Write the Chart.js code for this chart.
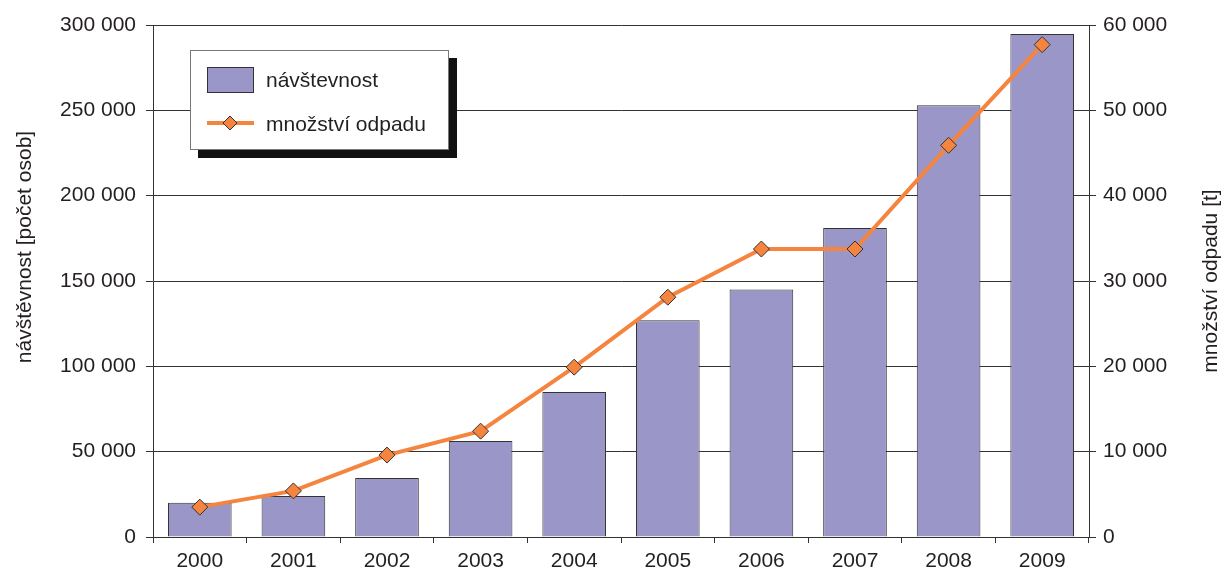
<!DOCTYPE html>
<html>
<head>
<meta charset="utf-8">
<script src="https://cdn.jsdelivr.net/npm/chart.js@4/dist/chart.umd.min.js"></script>
<style>
  html, body { margin: 0; padding: 0; background: #fff; }
  #wrap { width: 1226px; height: 574px; }
</style>
</head>
<body>
<div id="wrap"><canvas id="myChart"></canvas></div>
<script>
const years = ["2000", "2001", "2002", "2003", "2004", "2005", "2006", "2007", "2008", "2009"];
const visitors = [20000, 24000, 34500, 56200, 85000, 127000, 145000, 181000, 253000, 294700];
const waste = [3500, 5400, 9600, 12400, 19900, 28100, 33750, 33750, 45900, 57700];
const leftTicks = [0, 50000, 100000, 150000, 200000, 250000, 300000];
const rightTicks = [0, 10000, 20000, 30000, 40000, 50000, 60000];

const barLabel = "návštevnost";
const lineLabel = "množství odpadu";
const leftTitle = "návštěvnost [počet osob]";
const rightTitle = "množství odpadu [t]";

const FONT = "'Liberation Sans', Arial, sans-serif";
const TXT = "#231f20";
const BAR = "#9b96c8";
const LINE = "#f5843f";

function fmt(v) {
    return String(v).replace(/\B(?=(\d{3})+(?!\d))/g, " ");
}

// legend box with shadow + both axis titles (both read bottom to top)
const boxLegend = {
    id: "boxLegend",
    afterDraw(chart) {
        const c = chart.ctx;
        c.save();
        c.fillStyle = "#111";
        c.fillRect(198, 58, 259, 100);
        c.fillStyle = "#fff";
        c.fillRect(190, 50, 259, 100);
        c.strokeStyle = "#777";
        c.lineWidth = 1;
        c.strokeRect(190.5, 50.5, 258, 99);

        c.fillStyle = BAR;
        c.fillRect(207, 67, 47, 26);
        c.strokeStyle = "#333";
        c.strokeRect(207.5, 67.5, 46, 25);

        c.strokeStyle = LINE;
        c.lineWidth = 4;
        c.beginPath();
        c.moveTo(207, 123);
        c.lineTo(254, 123);
        c.stroke();
        c.fillStyle = LINE;
        c.strokeStyle = "#333";
        c.lineWidth = 1;
        c.beginPath();
        c.moveTo(230, 116);
        c.lineTo(237, 123);
        c.lineTo(230, 130);
        c.lineTo(223, 123);
        c.closePath();
        c.fill();
        c.stroke();

        c.fillStyle = TXT;
        c.font = "21px " + FONT;
        c.textBaseline = "alphabetic";
        c.fillText(barLabel, 266, 87);
        c.fillText(lineLabel, 266, 131);

        c.textAlign = "center";
        c.textBaseline = "middle";
        c.save();
        c.translate(25, 247);
        c.rotate(-Math.PI / 2);
        c.fillText(leftTitle, 0, 0);
        c.restore();
        c.translate(1211, 281);
        c.rotate(-Math.PI / 2);
        c.fillText(rightTitle, 0, 0);
        c.restore();
    }
};

document.addEventListener("DOMContentLoaded", function () {
    const ctx = document.getElementById("myChart").getContext("2d");

    new Chart(ctx, {
        data: {
            labels: years,
            datasets: [
                {
                    type: "line",
                    label: lineLabel,
                    data: waste,
                    yAxisID: "y2",
                    borderColor: LINE,
                    borderWidth: 4,
                    backgroundColor: LINE,
                    pointStyle: "rectRot",
                    pointRadius: 8,
                    pointBorderColor: "#333",
                    pointBorderWidth: 1,
                    pointBackgroundColor: LINE,
                    tension: 0,
                    order: 0,
                },
                {
                    type: "bar",
                    label: barLabel,
                    data: visitors,
                    yAxisID: "y",
                    backgroundColor: BAR,
                    borderColor: "#333",
                    borderWidth: 1,
                    barPercentage: 0.68,
                    categoryPercentage: 1,
                    order: 1,
                },
            ],
        },
        options: {
            responsive: true,
            maintainAspectRatio: false,
            animation: false,
            layout: { padding: { top: 25, left: 0, right: 0, bottom: 0 } },
            plugins: {
                legend: { display: false },
                tooltip: { enabled: false },
            },
            scales: {
                x: {
                    offset: true,
                    afterFit: function (s) { s.height = 37; },
                    grid: {
                        offset: true,
                        drawOnChartArea: false,
                        color: "#333",
                        tickLength: 6,
                    },
                    border: { color: "#333", width: 1 },
                    ticks: { color: TXT, font: { family: FONT, size: 21 }, padding: 6 },
                },
                y: {
                    position: "left",
                    min: 0,
                    max: 300000,
                    afterFit: function (s) { s.width = 153; },
                    afterBuildTicks: function (s) { s.ticks = leftTicks.map(v => ({ value: v })); },
                    grid: { color: "#333", lineWidth: 1, tickLength: 7 },
                    border: { color: "#333", width: 1 },
                    ticks: {
                        color: TXT,
                        font: { family: FONT, size: 21 },
                        padding: 10,
                        callback: v => fmt(v),
                    },
                },
                y2: {
                    position: "right",
                    min: 0,
                    max: 60000,
                    afterFit: function (s) { s.width = 137; },
                    afterBuildTicks: function (s) { s.ticks = rightTicks.map(v => ({ value: v })); },
                    grid: { drawOnChartArea: false, color: "#333", tickLength: 7 },
                    border: { color: "#333", width: 1 },
                    ticks: {
                        color: TXT,
                        font: { family: FONT, size: 21 },
                        padding: 7,
                        callback: v => fmt(v),
                    },
                },
            },
        },
        plugins: [boxLegend],
    });
});
</script>
</body>
</html>
